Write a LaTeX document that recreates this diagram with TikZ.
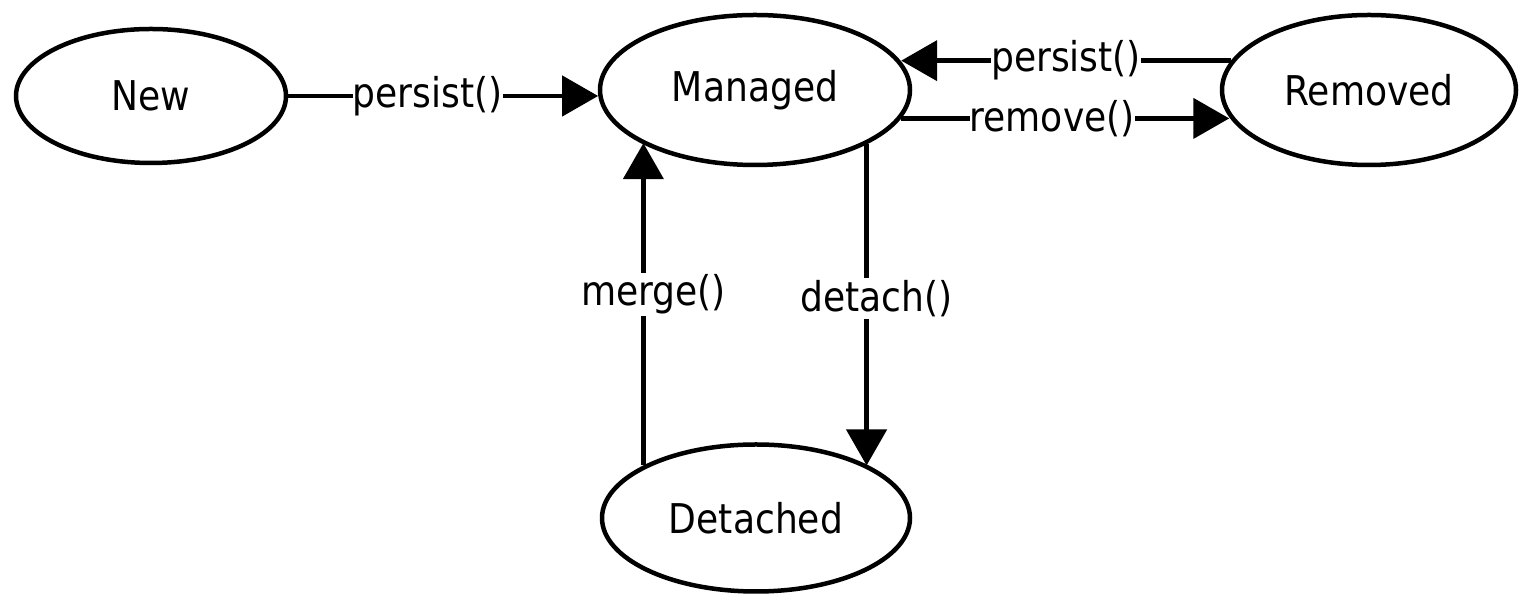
\documentclass[tikz,border=0pt]{standalone}
\usepackage{fontspec}
\setmainfont{DejaVu Sans}[FakeStretch=0.88]
\usetikzlibrary{arrows.meta,shapes.geometric}
\begin{document}
\begin{tikzpicture}[x=1pt,y=1pt,
  state/.style={draw, ellipse, line width=4.5pt, inner sep=0pt, font=\fontsize{41}{41}\selectfont},
  conn/.style={line width=4.5pt, -{Triangle[length=36pt,width=40pt]}},
  lbl/.style={fill=white, inner xsep=0pt, inner ysep=1.5pt, font=\fontsize{41}{41}\selectfont},
  vlbl/.style={fill=white, inner sep=2pt, font=\fontsize{41}{41}\selectfont}]
\useasboundingbox (0,0) rectangle (1519,596);
\node[state, minimum width=270pt, minimum height=134pt] (New) at (151,500) {New};
\node[state, minimum width=310pt, minimum height=150pt] (Managed) at (755,506) {Managed};
\node[state, minimum width=294pt, minimum height=150pt] (Removed) at (1369,506) {Removed};
\node[state, minimum width=308pt, minimum height=147pt] (Detached) at (756,78) {Detached};
\draw[conn] (New.east) -- node[lbl, pos=0.45] (l1) {persist()} (New.east -| Managed.182.6);
\draw[conn] (Removed.168.4) -- node[lbl, pos=0.50] (l2) {persist()} (Managed.11 |- Removed.168.4);
\draw[conn] (Managed.349) -- node[lbl, pos=0.46] (l3) {remove()} (Managed.349 -| Removed.191.6);
\draw[conn] (Detached.155.4) -- node[vlbl, pos=0.53, xshift=10pt] (l4) {merge()} (Detached.155.4 |- Managed.205.6);
\draw[conn] (Managed.334.7) -- node[vlbl, pos=0.48, xshift=10pt] (l5) {detach()} (Managed.334.7 |- Detached.25.1);
\end{tikzpicture}
\end{document}
